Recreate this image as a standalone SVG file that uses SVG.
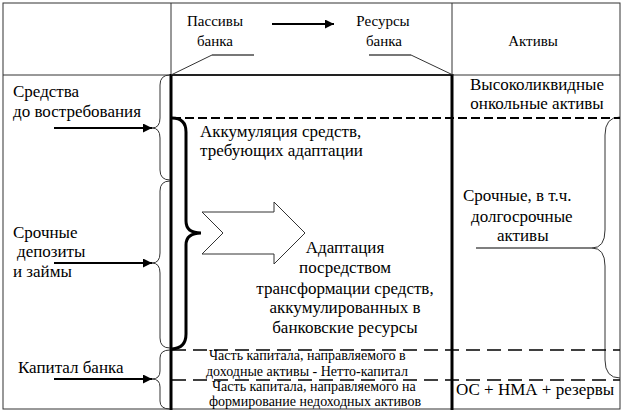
<svg xmlns="http://www.w3.org/2000/svg" width="624" height="415" viewBox="0 0 624 415" font-family="'Liberation Serif', 'Times New Roman', serif">
<defs>
<style>
text{font-family:'Liberation Serif','Times New Roman',serif;fill:#000}
.t17{font-size:17px}
.t15{font-size:15px}
.t14{font-size:14px}
.thin{stroke:#333;stroke-width:1;fill:none}
.thick{stroke:#000;stroke-width:3;fill:none}
.dash1{stroke:#000;stroke-width:2;stroke-dasharray:9 4;fill:none}
.dash2{stroke:#000;stroke-width:1.5;stroke-dasharray:14 7;fill:none}
.arr{stroke:#000;stroke-width:2;fill:none;marker-end:url(#ah)}
.gray{stroke:#777;stroke-width:2;fill:none}
</style>
<marker id="ah" viewBox="0 0 10 10" refX="10" refY="5" markerWidth="5" markerHeight="4.5" orient="auto" markerUnits="strokeWidth">
<path d="M0,0 L10,5 L0,10 z" fill="#000"/>
</marker>
</defs>
<rect width="624" height="415" fill="#fff"/>

<g id="grid">
<rect x="3" y="3" width="617" height="406" class="thin"/>
<line x1="171" y1="3" x2="171" y2="75" class="thin"/>
<line x1="452" y1="3" x2="452" y2="75" class="thin"/>
<line x1="3" y1="75" x2="620" y2="75" class="thin"/>
<line x1="171" y1="75" x2="452" y2="75" stroke="#222" stroke-width="2"/>
<line x1="171" y1="74" x2="171" y2="410" class="thick"/>
<line x1="452" y1="74" x2="452" y2="410" class="thick"/>
</g>

<g id="header">
<text class="t15" x="215" y="26" text-anchor="middle">Пассивы</text>
<text class="t15" x="215" y="46" text-anchor="middle">банка</text>
<text class="t15" x="383" y="26" text-anchor="middle">Ресурсы</text>
<text class="t15" x="384" y="46" text-anchor="middle">банка</text>
<text class="t15" x="533" y="46" text-anchor="middle">Активы</text>
<line x1="212" y1="55" x2="254" y2="55" class="gray"/>
<line x1="212" y1="55" x2="171" y2="75" stroke="#333" stroke-width="1"/>
<line x1="369" y1="55" x2="411" y2="55" class="gray"/>
<line x1="411" y1="55" x2="453" y2="75" stroke="#333" stroke-width="1"/>
</g>

<g id="connectors">
<line x1="272" y1="24" x2="334" y2="24" class="arr"/>
<line x1="54" y1="128" x2="152" y2="128" class="arr"/>
<line x1="54" y1="263" x2="152" y2="263" class="arr"/>
<line x1="54" y1="379" x2="152" y2="379" class="arr"/>
<path class="thin" d="M170,75 Q160,75 160,85 L160,118 Q160,128 152,128 Q160,128 160,138 L160,170 Q160,180 170,180"/>
<path class="thin" d="M170,181 Q160,181 160,191 L160,253 Q160,263 152,263 Q160,263 160,273 L160,338 Q160,348 170,348"/>
<path class="thin" d="M170,350 Q160,350 160,358 L160,371 Q160,379 152,379 Q160,379 160,387 L160,401 Q160,409 170,409"/>
<path class="thick" d="M172,118 Q186,118 186,132 L186,221 Q186,233 201,233 Q186,233 186,245 L186,334 Q186,348 172,349"/>
<path class="thin" stroke-width="1.2" d="M620,117 Q605,117 605,135 L605,230 Q605,248 592,248 Q605,248 605,266 L605,360 Q605,378 620,378"/>
<line x1="476" y1="248" x2="592" y2="248" stroke="#555" stroke-width="1.5"/>
<line x1="172" y1="118" x2="620" y2="118" class="dash1"/>
<line x1="172" y1="350" x2="620" y2="350" class="dash2"/>
<line x1="172" y1="380" x2="620" y2="380" class="dash2"/>
</g>

<g id="left-sredstva">
<text class="t17" x="13" y="97">Средства</text>
<text class="t17" x="13" y="117">до востребования</text>
</g>
<g id="left-srochnye">
<text class="t17" x="13" y="238">Срочные</text>
<text class="t17" x="17" y="257">депозиты</text>
<text class="t17" x="13" y="277">и займы</text>
</g>
<g id="left-kapital">
<text class="t17" x="18" y="373">Капитал банка</text>
</g>

<g id="accum">
<text class="t17" x="200" y="137">Аккумуляция средств,</text>
<text class="t17" x="200" y="156">требующих адаптации</text>
</g>

<g id="big-arrow">
<polygon points="202,212 274,212 274,202 305,233 274,264 274,254 202,254 223,233" fill="#fff" stroke="#333" stroke-width="1"/>
</g>

<g id="adapt">
<text class="t17" text-anchor="middle" x="345" y="253">Адаптация</text>
<text class="t17" text-anchor="middle" x="345" y="273">посредством</text>
<text class="t17" text-anchor="middle" x="345" y="294">трансформации средств,</text>
<text class="t17" text-anchor="middle" x="345" y="313">аккумулированных в</text>
<text class="t17" text-anchor="middle" x="345" y="333">банковские ресурсы</text>
</g>

<g id="netto">
<text class="t14" x="209" y="360">Часть капитала, направляемого в</text>
<text class="t14" x="206" y="376">доходные активы - Нетто-капитал</text>
</g>
<g id="nedohod">
<text class="t14" x="212" y="391">Часть капитала, направляемого на</text>
<text class="t14" x="209" y="406">формирование недоходных активов</text>
</g>

<g id="vysokolikvid">
<text class="t17" text-anchor="middle" x="537" y="90">Высоколиквидные</text>
<text class="t17" text-anchor="middle" x="537" y="109">онкольные активы</text>
</g>
<g id="srochnye-aktivy">
<text class="t17" x="463" y="201">Срочные, в т.ч.</text>
<text class="t17" x="471" y="222">долгосрочные</text>
<text class="t17" x="497" y="241">активы</text>
</g>
<g id="os">
<text class="t17" x="456" y="395">ОС + НМА + резервы</text>
</g>
</svg>
